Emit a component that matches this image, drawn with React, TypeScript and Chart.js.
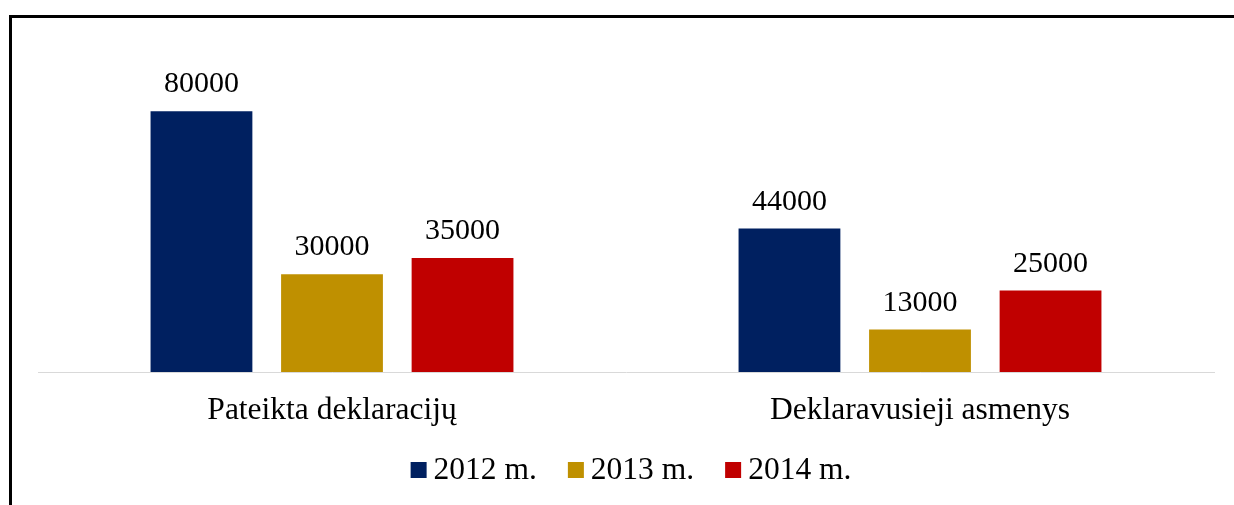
import React, { useEffect, useRef } from "react";
import { Chart, registerables } from "chart.js";

Chart.register(...registerables);

const categories = ["Pateikta deklaracijų", "Deklaravusieji asmenys"];
const seriesLabels = ["2012 m.", "2013 m.", "2014 m."];
const values2012 = [80000, 44000];
const values2013 = [30000, 13000];
const values2014 = [35000, 25000];
const seriesColors = ["#002060", "#BF9000", "#C00000"];

const FONT = '"Liberation Serif", "Times New Roman", serif';

const dataLabelPlugin = {
  id: "dataLabels",
  afterDatasetsDraw(chart: any) {
    const ctx = chart.ctx;
    ctx.save();
    ctx.font = `30px ${FONT}`;
    ctx.fillStyle = "#000";
    ctx.textAlign = "center";
    ctx.textBaseline = "alphabetic";
    chart.data.datasets.forEach((ds: any, i: number) => {
      const meta = chart.getDatasetMeta(i);
      meta.data.forEach((bar: any, j: number) => {
        ctx.fillText(String(ds.data[j]), bar.x, bar.y - 19);
      });
    });
    ctx.restore();
  },
};

const customLegendPlugin = {
  id: "customLegend",
  afterDraw(chart: any) {
    const ctx = chart.ctx;
    const ca = chart.chartArea;
    ctx.save();
    ctx.font = `31.5px ${FONT}`;
    const box = 16;
    const gap = 7;
    const spacing = 31;
    const items = chart.data.datasets.map((ds: any) => ({
      label: ds.label,
      color: ds.backgroundColor,
      w: ctx.measureText(ds.label).width,
    }));
    const total =
      items.reduce((s: number, it: any) => s + box + gap + it.w, 0) +
      spacing * (items.length - 1);
    let x = (ca.left + ca.right) / 2 + 5 - total / 2;
    const cy = 470;
    items.forEach((it: any) => {
      ctx.fillStyle = it.color;
      ctx.fillRect(x, cy - box / 2, box, box);
      ctx.fillStyle = "#000";
      ctx.textAlign = "left";
      ctx.textBaseline = "alphabetic";
      ctx.fillText(it.label, x + box + gap, cy + 9);
      x += box + gap + it.w + spacing;
    });
    ctx.restore();
  },
};

export default function App() {
  const canvasRef = useRef<HTMLCanvasElement>(null);

  useEffect(() => {
    if (!canvasRef.current) return;
    const seriesValues = [values2012, values2013, values2014];
    const chart = new Chart(canvasRef.current, {
      type: "bar",
      data: {
        labels: categories,
        datasets: seriesLabels.map((label, i) => ({
          label,
          data: seriesValues[i],
          backgroundColor: seriesColors[i],
          borderWidth: 0,
          categoryPercentage: 0.666,
          barPercentage: 0.78,
        })),
      },
      options: {
        responsive: false,
        animation: false,
        devicePixelRatio: 1,
        layout: { padding: { left: 38, right: 20, top: 46, bottom: 0 } },
        plugins: {
          legend: { display: false },
          tooltip: { enabled: false },
        },
        scales: {
          x: {
            grid: { display: false },
            border: { display: true, color: "#d9d9d9", width: 1 },
            ticks: {
              color: "#000",
              font: { family: FONT, size: 31.5 },
              padding: 12,
              maxRotation: 0,
            },
            afterFit: (scale: any) => {
              scale.height = 133;
            },
          },
          y: {
            display: false,
            min: 0,
            max: 100000,
          },
        },
      },
      plugins: [dataLabelPlugin, customLegendPlugin],
    });
    return () => chart.destroy();
  }, []);

  return (
    <div
      style={{
        position: "fixed",
        left: 0,
        top: 0,
        width: 1234,
        height: 505,
        background: "#fff",
        overflow: "hidden",
      }}
    >
      <canvas
        ref={canvasRef}
        width={1234}
        height={505}
        style={{ position: "absolute", left: 0, top: 0, width: 1234, height: 505 }}
      />
      <div
        style={{
          position: "absolute",
          left: 9,
          top: 15,
          width: 1234 - 9,
          height: 505,
          borderTop: "3px solid #000",
          borderLeft: "3px solid #000",
          boxSizing: "border-box",
        }}
      />
    </div>
  );
}
